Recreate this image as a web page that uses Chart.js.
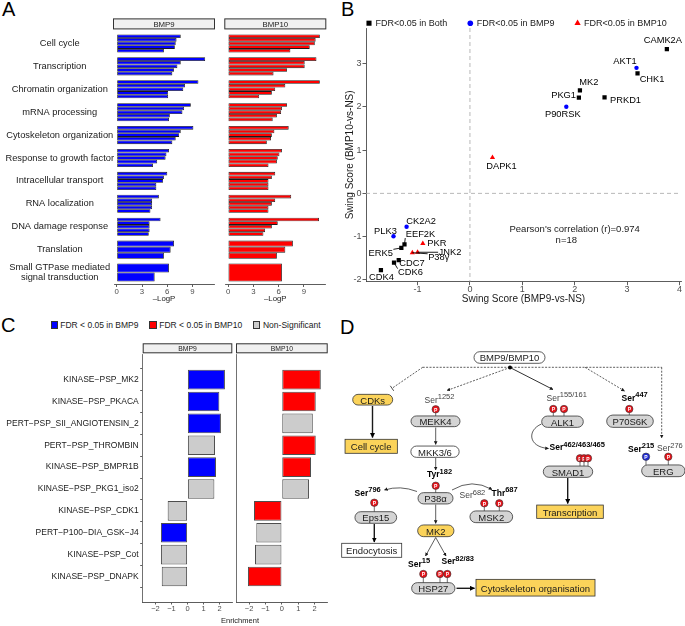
<!DOCTYPE html>
<html>
<head>
<meta charset="utf-8">
<title>BMP9 / BMP10 phosphoproteomics</title>
<script src="https://cdn.jsdelivr.net/npm/chart.js@4.4.1/dist/chart.umd.min.js"></script>
<style>
  html, body { margin: 0; padding: 0; background: #fff; }
  body { position: relative; width: 685px; height: 626px; overflow: hidden;
         font-family: "Liberation Sans", Arial, sans-serif; color: #1a1a1a; }
  canvas { position: absolute; }
  .tag { position: absolute; font-size: 20px; line-height: 20px; color: #000; }
  #legC { position: absolute; left: 50.5px; top: 320.5px; display: flex; align-items: center;
          font-size: 8.5px; line-height: 9px; white-space: nowrap; color: #1a1a1a; }
  #legC .it { display: flex; align-items: center; margin-right: 11px; }
  #legC .sw { display: inline-block; width: 5.2px; height: 5.2px; border: 0.8px solid #333; margin-right: 2.6px; }
  #enrich { position: absolute; left: 180px; width: 120px; top: 616px; text-align: center; font-size: 7.5px; line-height: 9px; }
  svg { position: absolute; left: 340px; top: 310px; }
  svg text { font-family: "Liberation Sans", Arial, sans-serif; }
  .nt { font-size: 9.5px; text-anchor: middle; dominant-baseline: central; fill: #1a1a1a; }
  .st { font-size: 8.5px; fill: #444; }
  .st.b { font-weight: bold; fill: #000; }
  .pt { font-size: 5px; text-anchor: middle; dominant-baseline: central; fill: #fff; font-weight: bold; }
</style>
</head>
<body>
<div class="tag" style="left:2px;top:-1px">A</div>
<div class="tag" style="left:341px;top:-1px">B</div>
<div class="tag" style="left:1px;top:315px">C</div>
<div class="tag" style="left:340px;top:317px">D</div>

<canvas id="a9"></canvas>
<canvas id="a10"></canvas>
<canvas id="scatter"></canvas>
<canvas id="c9"></canvas>
<canvas id="c10"></canvas>
<div id="legC"></div>
<div id="enrich">Enrichment</div>

<svg id="diagram" width="345" height="316" viewBox="340 310 345 316">
  <defs>
    <marker id="ah" viewBox="0 0 10 10" refX="9" refY="5" markerWidth="3.6" markerHeight="3.6"
            markerUnits="userSpaceOnUse" orient="auto"><path d="M0,0 L10,5 L0,10 z" fill="#1a1a1a"/></marker>
    <marker id="ahb" viewBox="0 0 10 10" refX="9" refY="5" markerWidth="5" markerHeight="5"
            markerUnits="userSpaceOnUse" orient="auto"><path d="M0,0 L10,5 L0,10 z" fill="#000"/></marker>
  </defs>
</svg>

<script>
// ---------- panel A : GO terms, -LogP ----------
const goTerms = ['Cell cycle', 'Transcription', 'Chromatin organization', 'mRNA processing',
  'Cytoskeleton organization', 'Response to growth factor', 'Intracellular transport',
  'RNA localization', 'DNA damage response', 'Translation',
  ['Small GTPase mediated', 'signal transduction']];
const logP9 = [
  [7.6, 7.1, 7.0, 6.9, 5.6],
  [10.5, 7.6, 7.2, 6.8, 6.6],
  [9.7, 8.1, 7.9, 6.1, 6.1],
  [8.8, 8.0, 7.8, 6.3, 6.2],
  [9.1, 7.6, 7.4, 7.0, 6.6],
  [6.2, 5.9, 5.8, 4.8, 4.3],
  [6.0, 5.6, 5.5, 4.7, 4.7],
  [5.0, 4.2, 4.2, 4.2, 4.0],
  [5.2, 3.9, 3.9, 3.9, 3.8],
  [6.8, 6.4, 5.6],
  [6.2, 4.5]
];
const logP10 = [
  [10.9, 10.4, 10.3, 9.7, 7.4],
  [10.5, 9.1, 9.1, 7.0, 5.4],
  [10.9, 6.8, 5.6, 5.2, 3.7],
  [7.0, 6.4, 6.3, 5.8, 5.3],
  [7.2, 5.5, 5.2, 5.1, 4.6],
  [6.4, 6.1, 5.9, 5.8, 4.8],
  [5.6, 5.2, 4.8, 4.8, 4.8],
  [7.5, 5.6, 5.2, 4.8, 4.8],
  [10.8, 5.9, 5.2, 4.4, 4.2],
  [7.7, 6.8, 5.8],
  [6.4]
];
const logPTicks = [0, 3, 6, 9];

// ---------- panel B : swing scores ----------
const kinases = ['CAMK2A', 'AKT1', 'CHK1', 'MK2', 'PKG1', 'PRKD1', 'P90RSK', 'DAPK1', 'CK2A2',
  'PLK3', 'EEF2K', 'ERK5', 'PKR', 'JNK2', 'P38γ', 'CDC7', 'CDK6', 'CDK4'];
const swing9 = [3.76, 3.18, 3.20, 2.10, 2.08, 2.57, 1.84, 0.43, -1.21,
  -1.46, -1.25, -1.31, -0.90, -1.00, -1.10, -1.36, -1.45, -1.70];
const swing10 = [3.33, 2.90, 2.77, 2.38, 2.21, 2.22, 2.00, 0.83, -0.77,
  -0.99, -1.18, -1.26, -1.16, -1.36, -1.37, -1.54, -1.60, -1.77];
const fdrGroup = ['Both', 'BMP9', 'Both', 'Both', 'Both', 'Both', 'BMP9', 'BMP10', 'BMP9',
  'BMP9', 'Both', 'Both', 'BMP10', 'BMP10', 'BMP10', 'Both', 'Both', 'Both'];
const fdrKeys = ['Both', 'BMP9', 'BMP10'];
const fdrLabels = ['FDR<0.05 in Both', 'FDR<0.05 in BMP9', 'FDR<0.05 in BMP10'];
const swingTicksX = [-1, 0, 1, 2, 3, 4];
const swingTicksY = [-2, -1, 0, 1, 2, 3];
const corrNote = ["Pearson's correlation (r)=0.974", 'n=18'];

// ---------- panel C : kinase-substrate set enrichment ----------
const kinaseSets = ['KINASE−PSP_MK2', 'KINASE−PSP_PKACA', 'PERT−PSP_SII_ANGIOTENSIN_2',
  'PERT−PSP_THROMBIN', 'KINASE−PSP_BMPR1B', 'KINASE−PSP_PKG1_iso2', 'KINASE−PSP_CDK1',
  'PERT−P100−DIA_GSK−J4', 'KINASE−PSP_Cot', 'KINASE−PSP_DNAPK'];
const enrich9 = [2.34, 1.99, 2.09, 1.72, 1.78, 1.68, -1.24, -1.66, -1.66, -1.61];
const sig9 = ['BMP9', 'BMP9', 'BMP9', 'NS', 'BMP9', 'NS', 'NS', 'BMP9', 'NS', 'NS'];
const enrich10 = [2.38, 2.07, 1.89, 2.07, 1.78, 1.66, -1.70, -1.56, -1.64, -2.07];
const sig10 = ['BMP10', 'BMP10', 'NS', 'BMP10', 'BMP10', 'NS', 'BMP10', 'NS', 'NS', 'BMP10'];
const sigKeys = ['BMP9', 'BMP10', 'NS'];
const sigLabels = ['FDR < 0.05 in BMP9', 'FDR < 0.05 in BMP10', 'Non-Significant'];
const enrichTicks = [-2, -1, 0, 1, 2];

// ---------- styling ----------
const FONT = '"Liberation Sans", Arial, sans-serif';
Chart.defaults.font.family = FONT;
Chart.defaults.color = '#4d4d4d';
const BLUE = '#0000FF', RED = '#FF0000', GREY = '#CCCCCC';
const sigColor = {BMP9: BLUE, BMP10: RED, NS: GREY};

// puts the canvas on the page and returns the padding that gives the wanted plot area
function place(id, box, area, yW, xH) {
  const c = document.getElementById(id);
  c.width = box[2]; c.height = box[3];
  c.style.left = box[0] + 'px'; c.style.top = box[1] + 'px';
  return {
    left: area[0] - box[0] - yW,
    top: area[1] - box[1],
    right: box[0] + box[2] - area[2],
    bottom: box[1] + box[3] - area[3] - xH
  };
}

// ggplot-like facet strip above the plot area
const stripPlugin = {
  id: 'strip',
  afterDraw(chart, args, o) {
    const {ctx, chartArea: a} = chart;
    const y = a.top - o.gap - o.h;
    ctx.save();
    ctx.fillStyle = '#f0f0f0';
    ctx.fillRect(a.left - o.ext, y, a.right - a.left + 2 * o.ext, o.h);
    ctx.strokeStyle = '#333'; ctx.lineWidth = 1;
    ctx.strokeRect(a.left - o.ext + 0.5, y + 0.5, a.right - a.left + 2 * o.ext - 1, o.h - 1);
    ctx.fillStyle = '#1a1a1a';
    ctx.font = o.size + 'px ' + FONT;
    ctx.textAlign = 'center'; ctx.textBaseline = 'middle';
    ctx.fillText(o.text, (a.left + a.right) / 2, y + o.h / 2 + 0.5);
    ctx.restore();
  }
};

const base = {
  responsive: false, animation: false, events: [],
  plugins: {legend: {display: false}, tooltip: {enabled: false}}
};

// ---------- A ----------
function goPanel(id, box, area, yW, vals, color, title, showLabels) {
  const n = Math.max(...vals.map(v => v.length));
  const datasets = [];
  for (let k = 0; k < n; k++) {
    datasets.push({
      data: vals.map(v => (v[k] === undefined ? null : v[k])),
      backgroundColor: color, borderColor: '#1a1a1a', borderWidth: 0.8, borderSkipped: false,
      categoryPercentage: 0.79, barPercentage: 1, skipNull: true
    });
  }
  const padding = place(id, box, area, yW, 20);
  return new Chart(document.getElementById(id), {
    type: 'bar',
    data: {labels: goTerms, datasets},
    options: Object.assign({}, base, {
      indexAxis: 'y',
      layout: {padding},
      plugins: Object.assign({}, base.plugins, {strip: {text: title, h: 11, gap: 2.6, ext: 1, size: 7.8}}),
      scales: {
        x: {
          type: 'linear', min: -0.33, max: 11.55,
          afterBuildTicks: s => { s.ticks = logPTicks.map(v => ({value: v})); },
          afterFit: s => { s.height = 20; },
          grid: {drawOnChartArea: false, tickLength: 3, color: '#333', lineWidth: 0.8},
          border: {color: '#333', width: 0.8},
          ticks: {font: {size: 7.8}, color: '#4d4d4d', padding: 0, maxRotation: 0},
          title: {display: true, text: '–LogP', font: {size: 7.8}, color: '#1a1a1a', padding: 0}
        },
        y: {
          display: showLabels,
          afterFit: s => { s.width = yW; },
          grid: {display: false, drawTicks: false}, border: {display: false},
          ticks: {font: {size: 9.3, lineHeight: 1.08}, color: '#1a1a1a', crossAlign: 'center',
                  padding: 0, autoSkip: false}
        }
      }
    }),
    plugins: [stripPlugin]
  });
}
goPanel('a9', [0, 0, 222, 310], [114, 32, 214, 284], 114, logP9, BLUE, 'BMP9', true);
goPanel('a10', [222, 0, 110, 310], [225.3, 32, 325.3, 284], 0, logP10, RED, 'BMP10', false);

// ---------- B ----------
const pointStyleFor = {Both: 'rect', BMP9: 'circle', BMP10: 'triangle'};
const colorFor = {Both: '#000000', BMP9: '#0000FF', BMP10: '#FF0000'};
const radiusFor = {Both: 3, BMP9: 2.2, BMP10: 3};
// label offsets in px from the point [dx, dy, draw leader]
const nudge = {
  CAMK2A: [-4, -8.5], AKT1: [-11.5, -6], CHK1: [14.5, 5.5], MK2: [9, -8], PKG1: [-15.3, -2],
  PRKD1: [21, 3], P90RSK: [-3.5, 7.5], DAPK1: [9, 8.5], CK2A2: [14.5, -5], PLK3: [-8, -4.5],
  EEF2K: [16, -10.4, true], ERK5: [-20.6, 5.4, true], PKR: [14, -0.3], JNK2: [32.4, 0, true],
  'P38γ': [26.4, 5.1, true], CDC7: [13.3, 3.3], CDK6: [16.5, 10, true], CDK4: [0.5, 7]
};
const scatterSets = fdrKeys.map((k, di) => ({
  label: fdrLabels[di],
  data: kinases.map((name, i) => ({x: swing9[i], y: swing10[i], name, g: fdrGroup[i]}))
               .filter(d => d.g === k),
  pointStyle: pointStyleFor[k], pointRadius: radiusFor[k],
  pointBackgroundColor: colorFor[k], pointBorderWidth: 0
}));

const swingPlugin = {
  id: 'swing',
  beforeDatasetsDraw(chart) {
    const {ctx, chartArea: a, scales: {x, y}} = chart;
    const x0 = x.getPixelForValue(0), y0 = y.getPixelForValue(0);
    ctx.save();
    ctx.strokeStyle = '#a6a6a6'; ctx.lineWidth = 0.8; ctx.setLineDash([4, 3]);
    ctx.beginPath();
    ctx.moveTo(x0, a.top); ctx.lineTo(x0, a.bottom);
    ctx.moveTo(a.left, y0); ctx.lineTo(a.right, y0);
    ctx.stroke();
    ctx.restore();
  },
  afterDatasetsDraw(chart) {
    const {ctx, scales: {x, y}} = chart;
    ctx.save();
    ctx.font = '9.3px ' + FONT;
    ctx.textAlign = 'center'; ctx.textBaseline = 'middle';
    chart.data.datasets.forEach((ds, di) => {
      chart.getDatasetMeta(di).data.forEach((pt, j) => {
        const name = ds.data[j].name;
        const [dx, dy, seg] = nudge[name];
        const tx = pt.x + dx, ty = pt.y + dy;
        if (seg) {
          const hw = ctx.measureText(name).width / 2 + 0.5, hh = 4;
          const ex = Math.max(tx - hw, Math.min(pt.x, tx + hw));
          const ey = Math.max(ty - hh, Math.min(pt.y, ty + hh));
          ctx.strokeStyle = '#000'; ctx.lineWidth = 0.9;
          ctx.beginPath(); ctx.moveTo(pt.x, pt.y); ctx.lineTo(ex, ey); ctx.stroke();
        }
        ctx.fillStyle = '#000';
        ctx.fillText(name, tx, ty);
      });
    });
    ctx.font = '9.5px ' + FONT;
    ctx.fillStyle = '#1a1a1a';
    ctx.fillText(corrNote[0], x.getPixelForValue(2.0), y.getPixelForValue(-0.82));
    ctx.fillText(corrNote[1], x.getPixelForValue(1.84), y.getPixelForValue(-1.08));
    ctx.restore();
  },
  afterDraw(chart) {
    const {ctx, chartArea: a} = chart;
    ctx.save();
    ctx.font = '9px ' + FONT;
    ctx.textBaseline = 'middle'; ctx.textAlign = 'left';
    let px = a.left + 3;
    const py = a.top - 4.8;
    chart.data.datasets.forEach(ds => {
      ctx.fillStyle = ds.pointBackgroundColor;
      Chart.helpers.drawPoint(ctx, {pointStyle: ds.pointStyle, radius: ds.pointRadius + 0.6, borderWidth: 0}, px, py);
      ctx.fillStyle = '#1a1a1a';
      ctx.fillText(ds.label, px + 6.5, py);
      px += 6.5 + ctx.measureText(ds.label).width + 23;
    });
    ctx.restore();
  }
};

(function () {
  const padding = place('scatter', [340, 0, 345, 310], [366, 28, 681.7, 281.7], 26, 23.5);
  new Chart(document.getElementById('scatter'), {
    type: 'scatter',
    data: {datasets: scatterSets},
    options: Object.assign({}, base, {
      layout: {padding},
      scales: {
        x: {
          type: 'linear', min: -1.985, max: 4.03,
          afterBuildTicks: s => { s.ticks = swingTicksX.map(v => ({value: v})); },
          afterFit: s => { s.height = 23.5; },
          grid: {drawOnChartArea: false, tickLength: 3.5, color: '#333', lineWidth: 0.8},
          border: {color: '#333', width: 0.8},
          ticks: {font: {size: 9}, color: '#4d4d4d', padding: -1.5, maxRotation: 0},
          title: {display: true, text: 'Swing Score (BMP9-vs-NS)', font: {size: 10}, color: '#1a1a1a', padding: 0}
        },
        y: {
          type: 'linear', min: -2.04, max: 3.82,
          afterBuildTicks: s => { s.ticks = swingTicksY.map(v => ({value: v})); },
          afterFit: s => { s.width = 26; },
          grid: {drawOnChartArea: false, tickLength: 3.5, color: '#333', lineWidth: 0.8},
          border: {color: '#333', width: 0.8},
          ticks: {font: {size: 9}, color: '#4d4d4d', padding: 1},
          title: {display: true, text: 'Swing Score (BMP10-vs-NS)', font: {size: 10}, color: '#1a1a1a',
                  padding: {top: 4.3, bottom: 0}}
        }
      }
    }),
    plugins: [swingPlugin]
  });
})();

// ---------- C ----------
function enrichPanel(id, box, area, yW, vals, sig, title, showLabels) {
  const padding = place(id, box, area, yW, 12);
  return new Chart(document.getElementById(id), {
    type: 'bar',
    data: {
      datasets: [{
        data: vals.map((v, i) => ({x: v, y: i + 1})),
        backgroundColor: sig.map(s => sigColor[s]),
        borderColor: '#4d4d4d', borderWidth: 1, borderSkipped: false,
        barPercentage: 0.9, categoryPercentage: 1
      }]
    },
    options: Object.assign({}, base, {
      indexAxis: 'y',
      layout: {padding},
      plugins: Object.assign({}, base.plugins, {strip: {text: title, h: 10, gap: 0.8, ext: 0, size: 6.8}}),
      scales: {
        x: {
          type: 'linear', min: -2.8, max: 2.8,
          afterBuildTicks: s => { s.ticks = enrichTicks.map(v => ({value: v})); },
          afterFit: s => { s.height = 12; },
          grid: {drawOnChartArea: false, tickLength: 2.5, color: '#333', lineWidth: 0.8},
          border: {color: '#333', width: 0.8},
          ticks: {font: {size: 7.5}, color: '#4d4d4d', padding: 0, maxRotation: 0,
                  callback: v => (v < 0 ? '−' + Math.abs(v) : String(v))}
        },
        y: {
          type: 'linear', reverse: true, min: 0.4, max: 10.6,
          afterBuildTicks: s => { s.ticks = kinaseSets.map((k, i) => ({value: i + 1})); },
          afterFit: s => { s.width = yW; },
          grid: {drawOnChartArea: false, drawTicks: showLabels, tickLength: 2.5, color: '#333', lineWidth: 0.8},
          border: {color: '#4d4d4d', width: 0.8},
          ticks: {display: showLabels, font: {size: 8.5}, color: '#1a1a1a', padding: 1.5, autoSkip: false,
                  callback: v => kinaseSets[Math.round(v) - 1]}
        }
      }
    }),
    plugins: [stripPlugin]
  });
}
enrichPanel('c9', [0, 330, 236, 296], [142.7, 354.1, 232.3, 602], 142.7, enrich9, sig9, 'BMP9', true);
enrichPanel('c10', [234, 330, 100, 296], [236, 354.1, 327.7, 602], 0, enrich10, sig10, 'BMP10', false);

// legend for C
const legC = document.getElementById('legC');
sigKeys.forEach((k, i) => {
  const it = document.createElement('span'); it.className = 'it';
  const sw = document.createElement('span'); sw.className = 'sw'; sw.style.background = sigColor[k];
  it.appendChild(sw);
  it.appendChild(document.createTextNode(sigLabels[i]));
  legC.appendChild(it);
});

// ---------- D : pathway diagram ----------
const NS = 'http://www.w3.org/2000/svg';
const dg = document.getElementById('diagram');
function el(tag, attrs, text) {
  const e = document.createElementNS(NS, tag);
  for (const k in attrs) e.setAttribute(k, attrs[k]);
  if (text) e.textContent = text;
  dg.appendChild(e);
  return e;
}
const YEL = '#FBD35A', GRY = '#D4D4D4';
function node(cx, cy, w, h, fill, label, pill = true) {
  el('rect', {x: cx - w / 2, y: cy - h / 2, width: w, height: h, rx: pill ? h / 2 : 0,
              fill, stroke: '#333', 'stroke-width': 0.8});
  el('text', {x: cx, y: cy + 0.4, class: 'nt'}, label);
}
function site(x, y, res, num, bold) {
  const t = el('text', {x, y, class: bold ? 'st b' : 'st'}, res);
  const s = document.createElementNS(NS, 'tspan');
  s.setAttribute('dy', -3.4); s.setAttribute('font-size', '7.5');
  s.textContent = num;
  t.appendChild(s);
}
function phos(x, y, toY, color) {
  el('line', {x1: x, y1: y + 3, x2: x, y2: toY, stroke: '#333', 'stroke-width': 0.7});
  el('circle', {cx: x, cy: y, r: 3.7, fill: color, stroke: '#333', 'stroke-width': 0.6});
  el('text', {x, y: y + 0.3, class: 'pt'}, 'P');
}
function line(d, opt = {}) {
  const a = {d, fill: 'none', stroke: '#1a1a1a', 'stroke-width': opt.w || 0.7};
  if (opt.dash) a['stroke-dasharray'] = '2 1.4';
  if (opt.head !== false) a['marker-end'] = opt.w > 1 ? 'url(#ahb)' : 'url(#ah)';
  el('path', a);
}

// connections
line('M422.7,367.3 H661.7', {dash: true, head: false});
line('M422.7,367.3 L392,388.3', {dash: true, head: false});
line('M393.7,390.8 L390.3,385.8', {head: false, w: 0.8});
line('M510,367.5 L447,390.5', {dash: true});
line('M510,367.5 L553,389.5', {w: 0.9});
line('M585,367.3 L624.5,391', {dash: true});
line('M661.7,367.3 V438', {dash: true});
line('M372.5,406 V437.5', {w: 1.4});
line('M435.7,427.5 V444.5');
line('M435.7,458 V470');
line('M417,491.5 Q400,485 384.5,490');
line('M452,490 Q472,478 492,489.5');
line('M435.7,504.5 V523.5');
line('M374.3,524 V542', {w: 1.4});
line('M435.7,537.5 L425.5,556');
line('M435.7,537.5 L446,556');
line('M456.5,588.3 H474.5', {w: 1.4});
line('M541.5,424 C527,430 528,447 548.5,448.5');
line('M567.7,478 V503.5', {w: 1.4});
el('circle', {cx: 510, cy: 367.5, r: 2, fill: '#000'});

// boxes
node(509.5, 357.5, 71, 11.6, '#fff', 'BMP9/BMP10');
node(372.7, 399.7, 40, 10.7, YEL, 'CDKs');
node(371.2, 446.3, 52.3, 14, YEL, 'Cell cycle', false);
node(435.5, 421.3, 49, 10.7, GRY, 'MEKK4');
node(435, 451.7, 48.3, 11.3, '#fff', 'MKK3/6');
node(435.5, 498.3, 35, 11.3, GRY, 'P38α');
node(375.8, 517.5, 41.7, 11.6, GRY, 'Eps15');
node(371.7, 550.3, 60, 14, '#fff', 'Endocytosis', false);
node(491.3, 516.8, 42.7, 11.7, GRY, 'MSK2');
node(435.8, 530.8, 36.3, 11.7, YEL, 'MK2');
node(433.3, 588.3, 43.3, 11.3, GRY, 'HSP27');
node(535.5, 587.7, 119, 16.7, YEL, 'Cytoskeleton organisation', false);
node(562.5, 421.7, 41.6, 11.3, GRY, 'ALK1');
node(568, 471.7, 49.4, 11.3, GRY, 'SMAD1');
node(570, 511.7, 66.6, 13.3, YEL, 'Transcription', false);
node(630, 421.2, 46.6, 12.3, GRY, 'P70S6K');
node(663.3, 470.8, 43.3, 11.7, GRY, 'ERG');

// phospho-sites
const PR = '#E8141B', PB = '#1F2BD6';
phos(435.7, 409.3, 416, PR);
phos(435.7, 485.7, 492.7, PR);
phos(374.3, 502.7, 511.7, PR);
phos(484.3, 503.3, 511, PR); phos(499.3, 503.3, 511, PR);
phos(423.3, 574, 582.7, PR); phos(440, 574, 582.7, PR); phos(447.3, 574, 582.7, PR);
phos(553.3, 409, 416, PR); phos(564, 409, 416, PR);
phos(580, 458.3, 466, PR); phos(584, 458.3, 466, PR); phos(588, 458.3, 466, PR);
phos(629.3, 409, 415, PR);
phos(646, 456.7, 465, PB); phos(668.3, 456.7, 465, PR);

site(424.5, 402.5, 'Ser', '1252', false);
site(427, 477, 'Tyr', '182', true);
site(354.5, 495.5, 'Ser', '796', true);
site(459.5, 498, 'Ser', '682', false);
site(491.5, 495.5, 'Thr', '687', true);
site(408, 566.5, 'Ser', '15', true);
site(441.5, 564, 'Ser', '82/83', true);
site(546.5, 400.5, 'Ser', '155/161', false);
site(549.5, 450, 'Ser', '462/463/465', true);
site(621.5, 400.5, 'Ser', '447', true);
site(628, 451.5, 'Ser', '215', true);
site(657, 451, 'Ser', '276', false);
</script>
</body>
</html>
